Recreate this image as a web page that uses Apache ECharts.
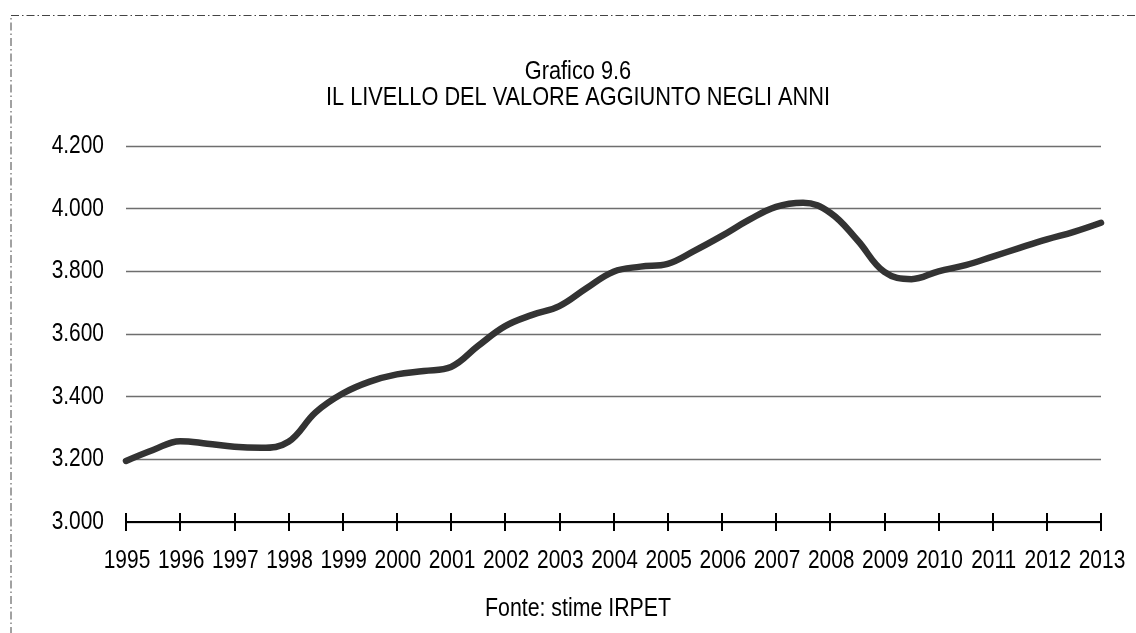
<!DOCTYPE html>
<html>
<head>
<meta charset="utf-8">
<script src="https://cdn.jsdelivr.net/npm/echarts@6/dist/echarts.min.js"></script>
<style>
html,body{margin:0;padding:0;background:#fff;}
#chart{width:1136px;height:633px;}
</style>
</head>
<body>
<div id="chart"></div>
<script>
// Data (half-year readings)
const periods = [1995,1995.5,1996,1996.5,1997,1997.5,1998,1998.5,1999,1999.5,2000,2000.5,2001,2001.5,2002,2002.5,2003,2003.5,2004,2004.5,2005,2005.5,2006,2006.5,2007,2007.5,2008,2008.5,2009,2009.5,2010,2010.5,2011,2011.5,2012,2012.5,2013];
const valueAdded = [3195,3230,3258,3250,3240,3237,3256,3350,3410,3448,3471,3482,3495,3562,3625,3661,3689,3746,3799,3815,3824,3866,3913,3964,4006,4019,3987,3900,3798,3775,3800,3820,3847,3875,3902,3926,3955];
const yearLabels = ['1995','1996','1997','1998','1999','2000','2001','2002','2003','2004','2005','2006','2007','2008','2009','2010','2011','2012','2013'];
const yTickLabels = ['3.000','3.200','3.400','3.600','3.800','4.000','4.200'];
const titleLines = ['Grafico 9.6', 'IL LIVELLO DEL VALORE AGGIUNTO NEGLI ANNI'];
const sourceNote = 'Fonte: stime IRPET';

// Arial Narrow look: Liberation Sans compressed horizontally
const FAMILY = '"Liberation Sans", Arial, sans-serif';
const NARROW = 0.82;

const chart = echarts.init(document.getElementById('chart'), null, {renderer: 'canvas'});
const seriesData = periods.map((p, i) => [p, valueAdded[i]]);
const yMin = 3000, yMax = 4200, yStep = 200;
const xMin = Number(yearLabels[0]), xMax = Number(yearLabels[yearLabels.length - 1]);

chart.setOption({
  animation: false,
  backgroundColor: '#ffffff',
  grid: {left: 126, right: 35, top: 146, bottom: 111, containLabel: false},
  xAxis: [{
    type: 'value', min: xMin, max: xMax, interval: 1,
    axisLine: {show: true, onZero: false, lineStyle: {color: '#000', width: 2}},
    axisTick: {show: true, inside: false, length: 9, lineStyle: {color: '#000', width: 2}},
    axisLabel: {show: false},
    splitLine: {show: false}
  }, {
    type: 'value', min: xMin, max: xMax, interval: 1, position: 'bottom',
    axisLine: {show: true, onZero: false, lineStyle: {color: '#000', width: 2}},
    axisTick: {show: true, inside: true, length: 9, lineStyle: {color: '#000', width: 2}},
    axisLabel: {show: false},
    splitLine: {show: false}
  }],
  yAxis: {
    type: 'value', min: yMin, max: yMax, interval: yStep,
    axisLine: {show: false},
    axisTick: {show: false},
    axisLabel: {show: false},
    splitLine: {show: true, lineStyle: {color: '#6e6e6e', width: 1.3}}
  },
  series: [{
    type: 'line',
    data: seriesData,
    smooth: 0.4,
    showSymbol: false,
    symbol: 'none',
    lineStyle: {color: '#333333', width: 6.5, cap: 'round', join: 'round'},
    z: 5
  }]
});

function narrowText(text, x, y, size, align, vAlign) {
  return {
    type: 'text', x: x, y: y, scaleX: NARROW, silent: true, z: 10,
    style: {text: text, font: size + 'px ' + FAMILY, fill: '#000', align: align, verticalAlign: vAlign}
  };
}

const graphics = [{
  type: 'rect', silent: true,
  shape: {x: 11, y: 15.5, width: 1300, height: 800},
  style: {fill: 'none', stroke: '#444', lineWidth: 1, lineDash: [8, 3, 1.5, 3]}
}];

// y-axis labels, placed through the axis scale
const gridLeftPx = chart.convertToPixel({xAxisIndex: 0}, xMin);
yTickLabels.forEach((lab, i) => {
  const py = chart.convertToPixel({yAxisIndex: 0}, yMin + i * yStep);
  graphics.push(narrowText(lab, gridLeftPx - 22, py, 25.5, 'right', 'middle'));
});
// x-axis labels
const axisY = chart.convertToPixel({yAxisIndex: 0}, yMin);
yearLabels.forEach((lab) => {
  const px = chart.convertToPixel({xAxisIndex: 0}, Number(lab));
  graphics.push(narrowText(lab, px + 1, axisY + 39, 25.5, 'center', 'middle'));
});
// titles and source
graphics.push(narrowText(titleLines[0], 578, 72, 26.5, 'center', 'middle'));
graphics.push(narrowText(titleLines[1], 578, 98, 26.5, 'center', 'middle'));
graphics.push(narrowText(sourceNote, 578, 609, 26, 'center', 'middle'));

chart.setOption({graphic: graphics});
</script>
</body>
</html>
